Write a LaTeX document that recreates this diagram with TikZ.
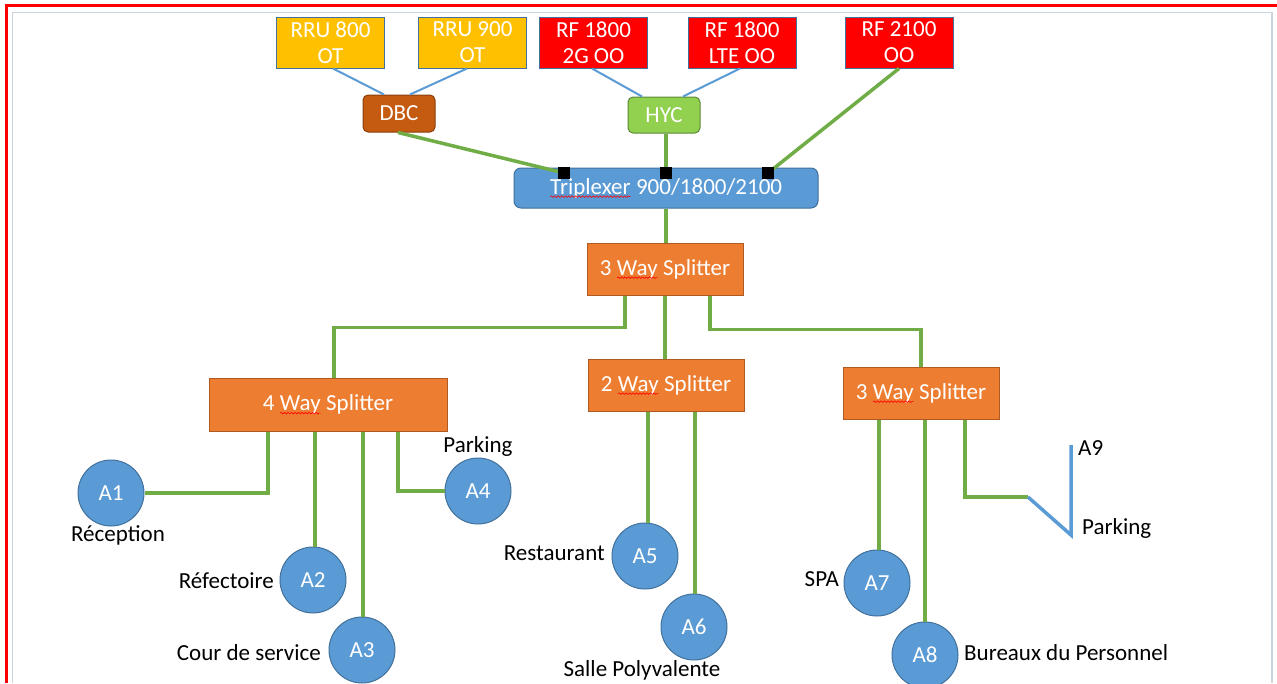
\documentclass[tikz,border=0pt]{standalone}
\usepackage{fontspec}
\setmainfont{Carlito}
\usetikzlibrary{calc,decorations.pathmorphing}
\definecolor{gold}{HTML}{FFC000}
\definecolor{rfred}{HTML}{FF0000}
\definecolor{dbcbrown}{HTML}{C55A11}
\definecolor{hycgreen}{HTML}{92D050}
\definecolor{ablue}{HTML}{5B9BD5}
\definecolor{bordblue}{HTML}{41719C}
\definecolor{orng}{HTML}{ED7D31}
\definecolor{orngb}{HTML}{AE5A21}
\definecolor{lgreen}{HTML}{70AD47}
\definecolor{frgray}{HTML}{C9D5DE}
\newcommand{\spellerr}[1]{\tikz[baseline=0pt,x=1pt,y=1pt]{\node[inner sep=0pt,outer sep=0pt,minimum width=0pt,minimum height=0pt,draw=none,fill=none,rounded corners=0pt,anchor=base west,text=white] (spw) at (0,0) {#1};\draw[red,line width=0.6pt,rounded corners=0pt,decorate,decoration={snake,amplitude=0.8pt,segment length=3.5pt}] ([yshift=-2.5pt]spw.base west) -- ([yshift=-2.5pt]spw.base east);}}
\tikzset{
  txt/.style={font=\fontsize{23}{26}\selectfont},
  bx/.style={txt, draw=bordblue, line width=1, text=white, align=center, inner sep=0, anchor=center},
  goldbox/.style={bx, fill=gold, minimum width=108, minimum height=51},
  redbox/.style={bx, fill=rfred, minimum width=108, minimum height=51},
  dbcbox/.style={bx, fill=dbcbrown, draw=dbcbrown!70!black, rounded corners=5, minimum width=72, minimum height=37},
  hycbox/.style={bx, fill=hycgreen, draw=lgreen!80!black, rounded corners=5, minimum width=72, minimum height=36},
  tripbox/.style={bx, fill=ablue, rounded corners=7, minimum width=304, minimum height=40},
  splitbox/.style={bx, fill=orng, draw=orngb, minimum width=156, minimum height=52},
  sq/.style={fill=black, inner sep=0, minimum width=12, minimum height=12},
  ap/.style={circle, txt, fill=ablue, draw=bordblue, line width=1, text=white, minimum size=66, inner sep=0},
  lbl/.style={txt, text=black, inner sep=0},
  gl/.style={draw=lgreen, line width=3.5, line join=miter},
  bl/.style={draw=ablue, line width=2},
  blthick/.style={draw=ablue, line width=3.5},
}
\begin{document}
\begin{tikzpicture}[x=1pt,y=-1pt]
\useasboundingbox (0,0) rectangle (1277,683);
\fill[white] (0,0) rectangle (1277,683);
% frames
\draw[frgray, line width=1.5] (12.5,683) -- (12.5,12.5) -- (1272,12.5) -- (1272,683);
\draw[rfred, line width=3.5] (6.5,683) -- (6.5,5.5) -- (1277,5.5);

% top boxes
\node[goldbox] (rru800) at (330.5,42.5) {RRU 800\\OT};
\node[goldbox] (rru900) at (472.5,42.5) {RRU 900\\OT};
\node[redbox] (rf2g) at (593.5,42.5) {RF 1800\\2G OO};
\node[redbox] (rflte) at (742,42.5) {RF 1800\\LTE OO};
\node[redbox] (rf2100) at (899,42.5) {RF 2100\\OO};
\node[dbcbox] (dbc) at (399,113.5) {DBC};
\node[hycbox] (hyc) at (664,115) {HYC};
\node[tripbox] (trip) at (666,188) {\spellerr{Triplexer} 900/1800/2100};

% splitters
\node[splitbox] (s3top) at (665,269) {3 \spellerr{Way} Splitter};
\node[splitbox, minimum width=238, minimum height=53] (s4) at (328,404.5) {4 \spellerr{Way} Splitter};
\node[splitbox] (s2) at (666,385) {2 \spellerr{Way} Splitter};
\node[splitbox] (s3r) at (921,393) {3 \spellerr{Way} Splitter};

% access points
\node[ap] (A1) at (111,493) {A1};
\node[ap] (A2) at (313,580) {A2};
\node[ap] (A3) at (362,650) {A3};
\node[ap] (A4) at (478,491) {A4};
\node[ap] (A5) at (645,556) {A5};
\node[ap] (A6) at (694,627) {A6};
\node[ap] (A7) at (877,583) {A7};
\node[ap] (A8) at (925,655) {A8};

% labels
\node[lbl] (lrec) at (118,535) {Réception};
\node[lbl, anchor=east] (lref) at (274,581) {Réfectoire};
\node[lbl, anchor=east] (lcour) at (321,653) {Cour de service};
\node[lbl] (lpark1) at (478,446) {Parking};
\node[lbl, anchor=east] (lrest) at (605,553) {Restaurant};
\node[lbl] (lsalle) at (642,670) {Salle Polyvalente};
\node[lbl, anchor=east] (lspa) at (839,579) {SPA};
\node[lbl, anchor=west] (lbur) at (964,653) {Bureaux du Personnel};
\node[lbl, anchor=west] (la9) at (1078,448) {A9};
\node[lbl, anchor=west] (lpark2) at (1082,528) {Parking};

% top connectors
\draw[bl] ([xshift=2.5]rru800.south) -- ([xshift=-15]dbc.north);
\draw[bl] ([xshift=-5.5]rru900.south) -- ([xshift=11]dbc.north);
\draw[bl] ([xshift=-1.5]rf2g.south) -- ([xshift=-22]hyc.north);
\draw[bl] ([xshift=-2]rflte.south) -- ([xshift=19]hyc.north);

\coordinate (p1) at (564,173);
\coordinate (p2) at (666,173);
\coordinate (p3) at (768,173);
\draw[gl] ([xshift=-1]dbc.south) -- (p1);
\draw[gl] ([xshift=2]hyc.south) -- (p2);
\draw[gl] (rf2100.south) -- (p3);
\node[sq] (sq1) at (p1) {};
\node[sq] (sq2) at (p2) {};
\node[sq] (sq3) at (p3) {};

\draw[gl] (trip.south) -- (trip.south |- s3top.north);
\draw[gl] ([xshift=-40]s3top.south) -- ++(0,32) -| ([xshift=6]s4.north);
\draw[gl] (s3top.south) -- (s3top.south |- s2.north);
\draw[gl] ([xshift=45]s3top.south) -- ++(0,34) -| (s3r.north);

% 4 way
\draw[gl] ([xshift=-60]s4.south) |- (A1.east);
\draw[gl] ([xshift=-13]s4.south) -- ([xshift=-13]s4.south |- A2.north);
\draw[gl] ([xshift=35]s4.south) -- ([xshift=35]s4.south |- A3.north);
\draw[gl] ([xshift=70]s4.south) |- (A4.west);
% 2 way
\draw[gl] ([xshift=-18]s2.south) -- ([xshift=-18]s2.south |- A5.north);
\draw[gl] ([xshift=29]s2.south) -- ([xshift=29]s2.south |- A6.north);
% 3 way right
\draw[gl] ([xshift=-42]s3r.south) -- ([xshift=-42]s3r.south |- A7.north);
\draw[gl] ([xshift=4]s3r.south) -- ([xshift=4]s3r.south |- A8.north);
\coordinate (c9a) at (1028,497);
\coordinate (c9b) at (1071,535);
\coordinate (c9c) at (1071,445);
\draw[gl] ([xshift=44]s3r.south) |- (c9a);
\draw[blthick] (c9a) -- (c9b) -- (c9c);
\end{tikzpicture}
\end{document}
